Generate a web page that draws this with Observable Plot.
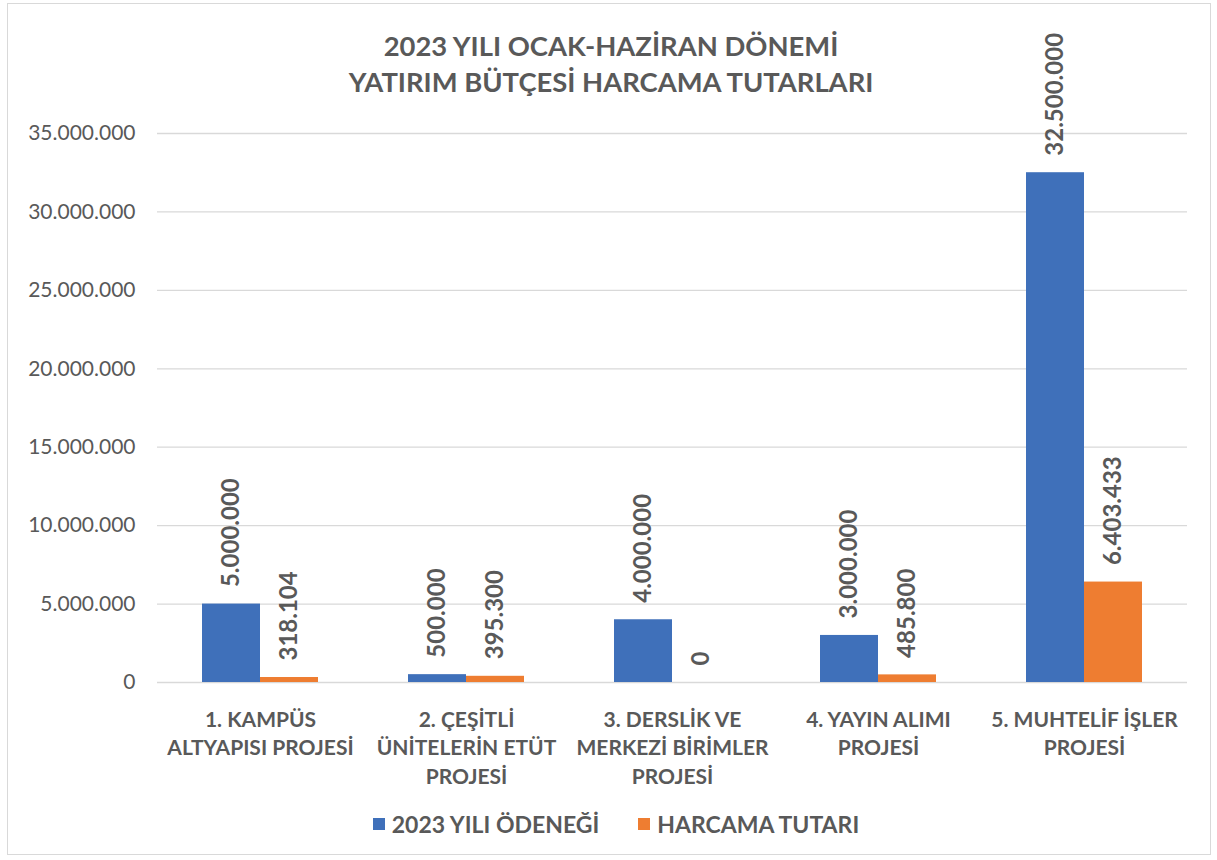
<!DOCTYPE html>
<html><head><meta charset="utf-8">
<script src="https://cdn.jsdelivr.net/npm/d3@7"></script>
<script src="https://cdn.jsdelivr.net/npm/@observablehq/plot@0.6"></script>
<style>
body{margin:0;background:#fff;font-family:Lato,sans-serif;}
#wrap{position:relative;width:1217px;height:860px;overflow:hidden;background:#fff;}
#frame{position:absolute;left:7px;top:3px;width:1204px;height:852px;border:1px solid #d9d9d9;box-sizing:border-box;}
#title{position:absolute;top:28px;left:0;width:1222px;text-align:center;color:#595959;font-weight:700;font-size:27.4px;line-height:36px;z-index:2;}
#chart{position:absolute;left:0;top:0;z-index:1;}
#legend{position:absolute;top:810px;left:0;width:1232px;display:flex;justify-content:center;align-items:center;gap:39px;color:#595959;font-weight:700;font-size:23px;z-index:2;}
#legend .item{display:flex;align-items:center;gap:7px;}
#legend .sw{width:12px;height:12px;display:inline-block;}
</style>
</head><body>
<div id="wrap">
<div id="frame"></div>
<div id="title">2023 YILI OCAK-HAZİRAN DÖNEMİ<br>YATIRIM BÜTÇESİ HARCAMA TUTARLARI</div>
<div id="chart"></div>
<div id="legend"></div>
</div>
<script>
const categories = ["1. KAMPÜS\nALTYAPISI PROJESİ", "2. ÇEŞİTLİ\nÜNİTELERİN ETÜT\nPROJESİ", "3. DERSLİK VE\nMERKEZİ BİRİMLER\nPROJESİ", "4. YAYIN ALIMI\nPROJESİ", "5. MUHTELİF İŞLER\nPROJESİ"];
const series = ["2023 YILI ÖDENEĞİ", "HARCAMA TUTARI"];
const odenek = [5000000, 500000, 4000000, 3000000, 32500000];
const harcama = [318104, 395300, 0, 485800, 6403433];
const yTicks = [0, 5000000, 10000000, 15000000, 20000000, 25000000, 30000000, 35000000];
const colors = ["#3F70BA", "#EE7D31"];

const trLocale = d3.formatLocale({decimal: ",", thousands: ".", grouping: [3], currency: ["", ""]});
const fmt = trLocale.format(",d");

const data = [];
categories.forEach((c, i) => {
  data.push({cat: c, series: series[0], value: odenek[i]});
  data.push({cat: c, series: series[1], value: harcama[i]});
});

const chart = Plot.plot({
  width: 1217,
  height: 800,
  marginTop: 133,
  marginBottom: 118,
  marginLeft: 156,
  marginRight: 30,
  style: {fontFamily: "Lato, sans-serif", color: "#595959", background: "transparent"},
  fx: {domain: categories, padding: 0, axis: null},
  x: {domain: series, paddingInner: 0, paddingOuter: 0.746, axis: null},
  y: {domain: [0, 35000000], axis: null},
  color: {domain: series, range: colors},
  marks: [
    Plot.ruleY(yTicks, {stroke: "#d9d9d9", strokeWidth: 1.3}),
    Plot.axisY({ticks: yTicks, tickFormat: fmt, tickSize: 0, tickPadding: 22, fontSize: 21, label: null, fill: "#595959"}),
    Plot.barY(data, {fx: "cat", x: "series", y: "value", fill: "series"}),
    Plot.text(data, {fx: "cat", x: "series", y: "value", text: d => fmt(d.value), rotate: -90, textAnchor: "start", dy: -17, fontWeight: 700, fontSize: 24, fill: "#595959"}),
    Plot.text(categories, {fx: d => d, text: d => d, frameAnchor: "bottom", lineAnchor: "top", dy: 24, fontSize: 21, fontWeight: 700, lineHeight: 1.36, fill: "#595959"})
  ]
});
document.getElementById("chart").appendChild(chart);

const legend = document.getElementById("legend");
series.forEach((s, i) => {
  const item = document.createElement("div");
  item.className = "item";
  const sw = document.createElement("span");
  sw.className = "sw";
  sw.style.background = colors[i];
  const t = document.createElement("span");
  t.textContent = s;
  item.appendChild(sw);
  item.appendChild(t);
  legend.appendChild(item);
});
</script>
</body></html>
